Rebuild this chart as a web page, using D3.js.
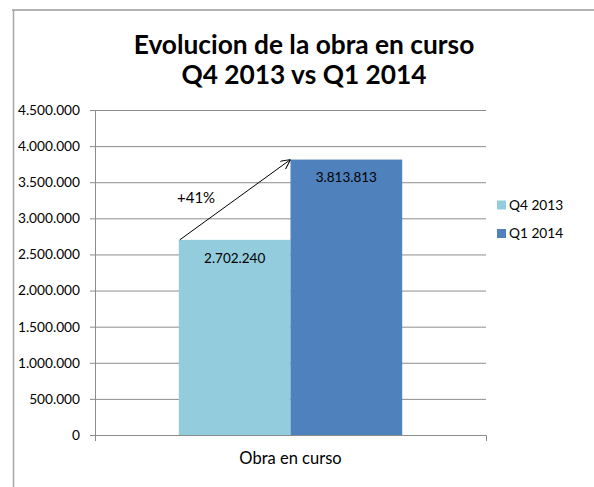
<!DOCTYPE html>
<html><head><meta charset="utf-8">
<script src="https://cdn.jsdelivr.net/npm/d3@7"></script>
<style>body{margin:0;background:#fff}svg{display:block}text{font-family:Lato,"Open Sans",sans-serif;fill:#000}</style>
</head><body>
<svg id="c" width="594" height="487"></svg>
<script>
const categories = ["Obra en curso"];
const seriesNames = ["Q4 2013", "Q1 2014"];
const seriesValues = [2702240, 3813813];
const seriesColors = ["#93CDDD", "#4F81BD"];
const yTicks = [0, 500000, 1000000, 1500000, 2000000, 2500000, 3000000, 3500000, 4000000, 4500000];
const titleLines = ["Evolucion de la obra en curso", "Q4 2013 vs Q1 2014"];
const changeLabel = "+41%";

const svg = d3.select("#c");
const loc = d3.formatLocale({decimal: ",", thousands: ".", grouping: [3], currency: ["", ""]});
const fmt = loc.format(",");

// frame
svg.append("line").attr("x1", 12).attr("x2", 594).attr("y1", 10).attr("y2", 10).attr("stroke", "#b3b3b3").attr("stroke-width", 2);
svg.append("line").attr("x1", 13.5).attr("x2", 13.5).attr("y1", 10).attr("y2", 487).attr("stroke", "#a6a6a6").attr("stroke-width", 1.5);

const L = 95, R = 486, T = 110, B = 435;
const y = d3.scaleLinear().domain([0, 4500000]).range([B, T]);
const x = d3.scaleBand().domain(categories).range([L, R]);
const xs = d3.scaleBand().domain(seriesNames).range([0, x.bandwidth()]).paddingOuter(0.75).paddingInner(0);

// gridlines
svg.append("g").attr("transform", `translate(${L},0)`)
  .call(d3.axisLeft(y).tickValues(yTicks).tickSize(-(R - L)).tickFormat(""))
  .call(g => g.select(".domain").remove())
  .call(g => g.selectAll("line").attr("stroke", "#8c8c8c").attr("stroke-width", 1));

// bars
const g = svg.append("g");
categories.forEach(c => {
  seriesNames.forEach((s, i) => {
    g.append("rect")
      .attr("x", x(c) + xs(s)).attr("width", xs.bandwidth())
      .attr("y", y(seriesValues[i])).attr("height", y(0) - y(seriesValues[i]))
      .attr("fill", seriesColors[i]);
    g.append("text")
      .attr("x", x(c) + xs(s) + xs.bandwidth() / 2)
      .attr("y", y(seriesValues[i]) + 18)
      .attr("dy", "0.35em").attr("text-anchor", "middle")
      .attr("font-size", "13.5px").text(fmt(seriesValues[i]));
  });
});

// y axis
svg.append("g").attr("transform", `translate(${L},0)`)
  .call(d3.axisLeft(y).tickValues(yTicks).tickSize(5).tickSizeOuter(0).tickPadding(10).tickFormat(fmt))
  .call(g => g.selectAll("line, path").attr("stroke", "#8c8c8c"))
  .call(g => g.selectAll("text").attr("font-size", "13.7px").attr("font-family", "Lato").attr("fill", "#000"));

// x axis
svg.append("g").attr("transform", `translate(0,${B})`)
  .call(d3.axisBottom(x).tickSizeInner(0).tickSizeOuter(6).tickPadding(17))
  .call(g => g.selectAll("path").attr("stroke", "#8c8c8c"))
  .call(g => g.selectAll("text").attr("font-size", "16.5px").attr("font-family", "Lato").attr("fill", "#000"));

// arrow
const defs = svg.append("defs");
defs.append("marker").attr("id", "ah").attr("viewBox", "0 0 10 10").attr("refX", 10).attr("refY", 5)
  .attr("markerWidth", 10).attr("markerHeight", 10).attr("markerUnits", "userSpaceOnUse").attr("orient", "auto")
  .append("path").attr("d", "M0,0L10,5L0,10").attr("fill", "none").attr("stroke", "#000").attr("stroke-width", 1);
const c0 = categories[0];
const x1 = x(c0) + xs(seriesNames[0]) + 1, y1 = y(seriesValues[0]);
const x2 = x(c0) + xs(seriesNames[1]), y2 = y(seriesValues[1]);
svg.append("line").attr("x1", x1).attr("y1", y1).attr("x2", x2).attr("y2", y2)
  .attr("stroke", "#000").attr("stroke-width", 1).attr("marker-end", "url(#ah)");
svg.append("text").attr("x", 177).attr("y", 198).attr("dy", "0.35em").attr("font-size", "15px").text(changeLabel);

// title
svg.append("text").attr("x", 304).attr("y", 54).attr("text-anchor", "middle")
  .attr("font-size", "26.3px").attr("font-weight", "bold").text(titleLines[0]);
svg.append("text").attr("x", 304).attr("y", 84).attr("text-anchor", "middle")
  .attr("font-size", "26.3px").attr("font-weight", "bold").text(titleLines[1]);

// legend
const lg = svg.append("g");
seriesNames.forEach((s, i) => {
  const cy = 205 + i * 28.5;
  lg.append("rect").attr("x", 497).attr("y", cy - 4.5).attr("width", 9).attr("height", 9).attr("fill", seriesColors[i]);
  lg.append("text").attr("x", 509).attr("y", cy).attr("dy", "0.35em").attr("font-size", "13.7px").text(s);
});
</script>
</body></html>
